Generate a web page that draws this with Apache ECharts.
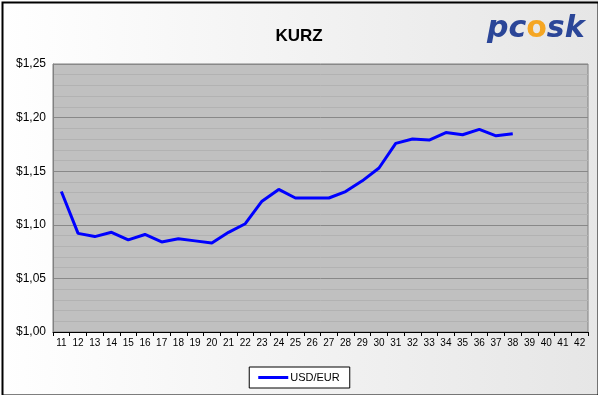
<!DOCTYPE html>
<html><head><meta charset="utf-8">
<script src="https://cdn.jsdelivr.net/npm/echarts@6/dist/echarts.min.js"></script>
<style>html,body{margin:0;padding:0;background:#fff}#c{width:598px;height:395px}</style>
</head><body><div id="c"></div>
<script>
const categories = ['11','12','13','14','15','16','17','18','19','20','21','22','23','24','25','26','27','28','29','30','31','32','33','34','35','36','37','38','39','40','41','42'];
const usdEur = [1.131,1.092,1.089,1.093,1.086,1.091,1.084,1.087,1.085,1.083,1.093,1.101,1.122,1.133,1.125,1.125,1.125,1.131,1.141,1.153,1.176,1.180,1.179,1.186,1.184,1.189,1.183,1.185,null,null,null,null];
const yTicks = [1.00,1.05,1.10,1.15,1.20,1.25];
const title = 'KURZ';
const seriesName = 'USD/EUR';

const chart = echarts.init(document.getElementById('c'), null, {renderer:'canvas'});
chart.setOption({
  animation:false,
  backgroundColor:{type:'linear',x:0,y:0,x2:1,y2:0,colorStops:[{offset:0,color:'#ffffff'},{offset:1,color:'#e6e6e6'}]},
  title:{text:title,left:'center',top:23,textStyle:{fontFamily:'Liberation Sans, Arial',fontSize:17,fontWeight:'bold',color:'#000'}},
  graphic:[
    {type:'rect',left:0,top:0,shape:{x:1,y:1,width:596,height:393},style:{fill:'none',stroke:'#000',lineWidth:2},z:100},
    {type:'text',left:487,top:14,style:{text:'{a|pc}{b|o}{a|sk}',rich:{a:{fontFamily:'DejaVu Sans',fontSize:30,fontWeight:'bold',fontStyle:'italic',fill:'#2b4698'},b:{fontFamily:'DejaVu Sans',fontSize:30,fontWeight:'bold',fill:'#f5a623'}}}}
  ],
  legend:{bottom:7,left:'center',itemWidth:30,itemHeight:3,itemGap:4,backgroundColor:'#fff',borderColor:'#000',borderWidth:1,padding:[5,10,5,9],
    textStyle:{fontFamily:'Liberation Sans, Arial',fontSize:11,color:'#000',padding:[0,0,0,-3]},
    data:[{name:seriesName,icon:'rect'}]},
  grid:{left:53,top:64,right:10,bottom:63,show:true,backgroundColor:'#c0c0c0',borderColor:'#808080',borderWidth:1},
  xAxis:{type:'category',data:categories,boundaryGap:true,
    axisLine:{lineStyle:{color:'#000',width:1}},
    axisTick:{show:true,length:4,alignWithLabel:false,lineStyle:{color:'#000'}},
    axisLabel:{fontFamily:'Liberation Sans, Arial',fontSize:10,color:'#000',margin:6,interval:0}},
  yAxis:{type:'value',min:1.00,max:1.25,interval:0.05,
    axisLine:{show:true,lineStyle:{color:'#808080'}},axisTick:{show:false},
    axisLabel:{fontFamily:'Liberation Sans, Arial',fontSize:12,color:'#000',margin:7,
      formatter:v=>'$'+v.toFixed(2).replace('.',',')},
    splitLine:{show:true,lineStyle:{color:'#888888',width:1}},
    minorTick:{show:false,splitNumber:5},
    minorSplitLine:{show:true,lineStyle:{color:'#b2b2b2',width:1}}},
  series:[{name:seriesName,type:'line',data:usdEur,showSymbol:false,symbol:'none',connectNulls:false,
    lineStyle:{color:'#0000ff',width:3},itemStyle:{color:'#0000ff'}}]
});
</script></body></html>
